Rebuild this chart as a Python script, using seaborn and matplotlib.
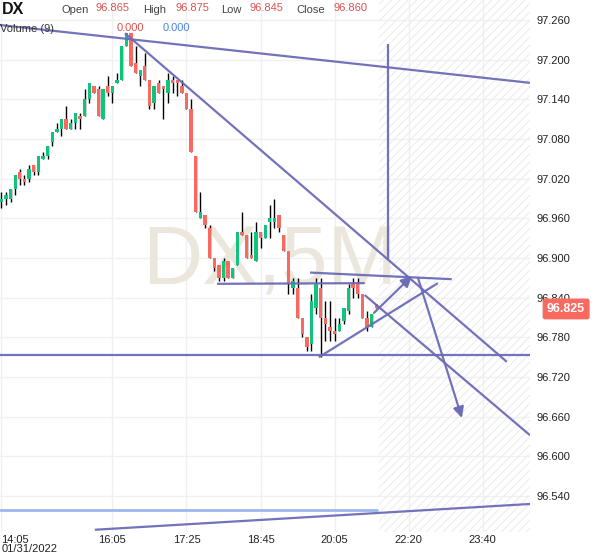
import matplotlib
matplotlib.use("Agg")
import matplotlib.pyplot as plt
from matplotlib.patches import Rectangle
import numpy as np
import pandas as pd
import seaborn as sns

# ---------------- data ----------------
opens = [96.985, 96.990, 96.990, 97.005, 97.030, 97.020, 97.020, 97.040, 97.030, 97.050,
         97.055, 97.075, 97.090, 97.095, 97.110, 97.095, 97.105, 97.115, 97.115, 97.140,
         97.160, 97.155, 97.110, 97.160, 97.150, 97.165, 97.170, 97.220, 97.240, 97.195,
         97.175, 97.190, 97.170, 97.135, 97.165, 97.160, 97.150, 97.170, 97.170, 97.160,
         97.150, 97.125, 97.055, 96.960, 96.965, 96.945, 96.900, 96.890, 96.870, 96.895,
         96.870, 96.890, 96.940, 96.935, 96.905, 96.895, 96.940, 96.930, 96.955, 96.955,
         96.965, 96.935, 96.910, 96.855, 96.855, 96.810, 96.780, 96.770, 96.825, 96.855,
         96.810, 96.795, 96.790, 96.790, 96.805, 96.820, 96.860, 96.860, 96.845, 96.810,
         96.795, 96.830]
highs = [97.000, 97.000, 97.005, 97.025, 97.035, 97.025, 97.040, 97.040, 97.055, 97.060,
         97.070, 97.090, 97.105, 97.110, 97.130, 97.110, 97.120, 97.120, 97.155, 97.165,
         97.160, 97.160, 97.155, 97.175, 97.160, 97.180, 97.220, 97.240, 97.240, 97.220,
         97.185, 97.210, 97.170, 97.160, 97.170, 97.160, 97.180, 97.175, 97.170, 97.170,
         97.150, 97.140, 97.055, 97.000, 96.965, 96.950, 96.900, 96.890, 96.900, 96.895,
         96.885, 96.940, 96.970, 96.935, 96.940, 96.955, 96.940, 96.950, 96.980, 96.990,
         96.965, 96.935, 96.910, 96.870, 96.870, 96.810, 96.780, 96.845, 96.870, 96.870,
         96.835, 96.835, 96.810, 96.810, 96.825, 96.860, 96.870, 96.870, 96.845, 96.820,
         96.815, 96.830]
lows = [96.975, 96.980, 96.985, 96.995, 97.010, 97.010, 97.015, 97.025, 97.025, 97.050,
        97.050, 97.070, 97.090, 97.085, 97.095, 97.095, 97.095, 97.095, 97.115, 97.135,
        97.150, 97.115, 97.110, 97.145, 97.135, 97.165, 97.170, 97.220, 97.190, 97.180,
        97.160, 97.170, 97.125, 97.125, 97.150, 97.110, 97.135, 97.150, 97.145, 97.150,
        97.125, 97.060, 96.970, 96.960, 96.945, 96.900, 96.880, 96.865, 96.865, 96.870,
        96.870, 96.890, 96.935, 96.900, 96.900, 96.895, 96.915, 96.930, 96.930, 96.945,
        96.940, 96.910, 96.845, 96.845, 96.810, 96.780, 96.760, 96.760, 96.815, 96.750,
        96.775, 96.775, 96.775, 96.790, 96.800, 96.815, 96.840, 96.840, 96.810, 96.790,
        96.795, 96.825]
closes = [96.990, 96.995, 97.005, 97.025, 97.020, 97.015, 97.035, 97.030, 97.055, 97.055,
          97.070, 97.090, 97.095, 97.110, 97.095, 97.105, 97.120, 97.110, 97.140, 97.165,
          97.150, 97.115, 97.155, 97.150, 97.160, 97.170, 97.220, 97.240, 97.190, 97.180,
          97.185, 97.170, 97.130, 97.160, 97.150, 97.155, 97.170, 97.165, 97.165, 97.150,
          97.125, 97.060, 96.970, 96.970, 96.950, 96.900, 96.885, 96.870, 96.895, 96.870,
          96.885, 96.940, 96.935, 96.900, 96.900, 96.940, 96.930, 96.950, 96.960, 96.960,
          96.945, 96.910, 96.860, 96.865, 96.810, 96.785, 96.765, 96.835, 96.860, 96.810,
          96.800, 96.790, 96.785, 96.800, 96.825, 96.855, 96.855, 96.845, 96.810, 96.795,
          96.815, 96.825]

tick_slots = [0, 24, 40, 56, 72, 88, 104]
tick_labels = ["14:05\n01/31/2022", "16:05", "17:25", "18:45", "20:05", "22:20", "23:40"]
price_ticks = [97.260, 97.200, 97.140, 97.080, 97.020, 96.960, 96.900, 96.840,
               96.780, 96.720, 96.660, 96.600, 96.540]

# drawing tools: (slot0, price0, slot1, price1)
trend_lines = [
    (-0.3, 97.2525, 114.2, 97.165),
    (26.7, 97.240, 109.2, 96.743),
    (78.5, 96.844, 114.2, 96.632),
    (46.6, 96.861, 78.5, 96.862),
    (66.7, 96.878, 97.3, 96.868),
    (68.6, 96.750, 94.3, 96.862),
    (83.5, 97.224, 83.5, 96.899),
    (20.2, 96.489, 114.2, 96.528),
]
arrows = [
    (80.5, 96.817, 88.7, 96.873),
    (90.0, 96.870, 99.5, 96.658),
]
hline_price = 96.753
volume_line = (-0.3, 81.2, 96.519)
last_price = 96.825
future_start = 81.5
header_labels = ["Open", "High", "Low", "Close"]
header_values = ["96.865", "96.875", "96.845", "96.860"]

# ---------------- style ----------------
sns.set_theme(style="white")
plt.rcParams["font.family"] = ["Liberation Sans", "DejaVu Sans"]
plt.rcParams["hatch.linewidth"] = 0.7

GREEN = "#10c47c"
RED = "#f86a60"
TOOL = "#6b6bb8"

fig = plt.figure(figsize=(6, 5.58), dpi=100)
ax = fig.add_axes([0, 1 - 532 / 558, 530 / 600, 532 / 558])

x0, x1 = -0.28, 114.2
y0, y1 = 96.4856, 97.2903
ax.set_xlim(x0, x1)
ax.set_ylim(y0, y1)

# grid
for p in price_ticks:
    ax.axhline(p, color="#f0f0f0", lw=1, zorder=0)
for s in tick_slots:
    ax.axvline(s, color="#f0f0f0", lw=1, zorder=0)

# hatched future area
ax.add_patch(Rectangle((future_start, y0), x1 - future_start, y1 - y0,
                       hatch="////", facecolor="none", edgecolor="#ebebeb",
                       lw=0, zorder=0))

# watermark
ax.text(58, 96.893, "DX,5M", fontsize=60, color="#ebe7dc", ha="center",
        va="center", zorder=1, family=["Liberation Sans"])

# candles
df = pd.DataFrame({"slot": np.arange(len(opens)), "open": opens, "high": highs,
                   "low": lows, "close": closes})
df["up"] = df["close"] >= df["open"]
ax.vlines(df["slot"], df["low"], df["high"], color="black", lw=1.0, zorder=3)
bottom = df[["open", "close"]].min(axis=1)
height = (df["close"] - df["open"]).abs().clip(lower=0.002)
colors = [GREEN if u else RED for u in df["up"]]
ax.bar(df["slot"], height, bottom=bottom, width=0.72, color=colors, lw=0, zorder=4)

# volume line
sns.lineplot(x=[volume_line[0], volume_line[1]], y=[volume_line[2]] * 2, ax=ax,
             color="#9db8ef", lw=2, zorder=2)

# drawing tools
ax.axhline(hline_price, color=TOOL, lw=1.6, alpha=0.95, zorder=5)
for (a, b, c, d) in trend_lines:
    ax.plot([a, c], [b, d], color=TOOL, lw=1.6, alpha=0.95, zorder=5,
            solid_capstyle="butt")
for (a, b, c, d) in arrows:
    ax.annotate("", xy=(c, d), xytext=(a, b),
                arrowprops=dict(arrowstyle="-|>", color=TOOL, lw=1.6,
                                mutation_scale=16, alpha=0.95, shrinkA=0, shrinkB=0),
                zorder=6)

# axes ticks
for sp in ax.spines.values():
    sp.set_visible(False)
ax.yaxis.tick_right()
ax.set_yticks(price_ticks)
ax.set_yticklabels([f"{p:.3f}" for p in price_ticks])
ax.set_xticks(tick_slots)
ax.set_xticklabels(tick_labels)
ax.tick_params(axis="both", length=0, labelsize=8, colors="#222222")
ax.tick_params(axis="y", pad=5)
ax.tick_params(axis="x", pad=2)
ax.get_xticklabels()[0].set_horizontalalignment("left")
ax.get_xticklabels()[0].set_linespacing(0.9)
ax.set_xlabel("")
ax.set_ylabel("")

# last price label
ax.annotate("96.825", xy=(x1, last_price - 0.002), xycoords="data",
            xytext=(26, 0), textcoords="offset points", ha="center", va="center",
            color="white", fontsize=9, fontweight="bold",
            bbox=dict(boxstyle="round,pad=0.3,rounding_size=0.15", fc=RED, ec=RED),
            annotation_clip=False, zorder=10)

# header
fig.text(2 / 600, 1 - 9 / 558, "DX", fontsize=11.5, fontweight="bold", va="center",
         ha="left", color="#111111")
hx_lab = [62, 143, 221, 296]
hx_val = [96, 175, 250, 333]
for lab, val, xl, xv in zip(header_labels, header_values, hx_lab, hx_val):
    fig.text(xl / 600, 1 - 10 / 558, lab, fontsize=8, color="#444444", va="center")
    fig.text(xv / 600, 1 - 8 / 558, val, fontsize=8, color="#d9534f", va="center")
fig.text(0 / 600, 1 - 29 / 558, "Volume (9)", fontsize=8, color="#333333", va="center")
fig.text(117 / 600, 1 - 28 / 558, "0.000", fontsize=8, color="#d9534f", va="center")
fig.text(163 / 600, 1 - 28 / 558, "0.000", fontsize=8, color="#4a86e8", va="center")

fig.savefig("out.png", dpi=100, facecolor="white")
